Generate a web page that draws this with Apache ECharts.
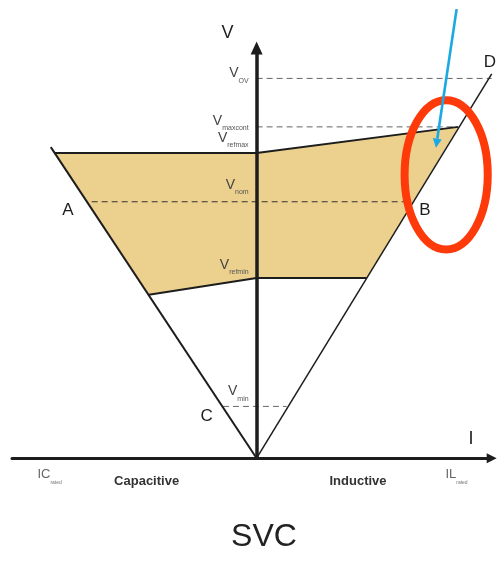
<!DOCTYPE html>
<html>
<head>
<meta charset="utf-8">
<title>SVC V-I characteristic</title>
<script src="https://cdn.jsdelivr.net/npm/echarts@6/dist/echarts.min.js"></script>
<style>
  html, body { margin: 0; padding: 0; background: #ffffff; }
  #chart { width: 497px; height: 564px; }
</style>
</head>
<body>
<div id="chart"></div>
<script>
// SVC steady-state V-I characteristic.
// I in per-unit of rated current (negative = capacitive, positive = inductive),
// V in per-unit of nominal voltage.

// Voltage reference levels marked on the V axis
const levelNames  = ['OV', 'maxcont', 'refmax', 'nom', 'refmin', 'min'];
const levelValues = [1.481, 1.292, 1.190, 1.000, 0.703, 0.202];

// Control range (shaded area), vertices from the top-left corner clockwise
const rangeI = [-0.868, 0.000, 0.868, 0.474, 0.000, -0.464];
const rangeV = [ 1.190, 1.190, 1.292, 0.703, 0.703,  0.637];

// Limit characteristics through the origin: full capacitor and full reactor
const capacitiveI = [-0.886, 0];
const capacitiveV = [ 1.213, 0];
const inductiveI  = [0, 1.012];
const inductiveV  = [0, 1.499];

// Dashed guides: which level each one marks, and its extent along I
const guideLevel  = [0, 1, 3, 5];
const guideStartI = [0.000, 0.000, -0.710, -0.145];
const guideEndI   = [1.012, 0.861,  0.667,  0.129];

// Named points on the characteristic
const pointNames = ['A', 'B', 'C', 'D'];
const pointI = [-0.710, 0.667, -0.145, 1.012];
const pointV = [ 1.000, 1.000,  0.202, 1.499];

// Axis extents
const axisI = [-1.053, 1.012];
const axisV = [0, 1.600];

// Highlight around the upper inductive corner, and the pointer into it
const highlightCenter = [0.816, 1.105];
const highlightRadius = [0.179, 0.291];
const pointerFrom = [0.861, 1.751];
const pointerTo   = [0.772, 1.211];

const FONT = '"Liberation Sans", Arial, Helvetica, sans-serif';
const INK = '#1d1d1d';

const pairs = (xs, ys) => xs.map((x, k) => [x, ys[k]]);

function solidLine(name, data, width) {
  return {
    name, type: 'line', data, symbol: 'none', silent: true, z: 3,
    lineStyle: { color: INK, width }
  };
}

const series = [
  {
    name: 'control range',
    type: 'custom',
    silent: true,
    z: 1,
    data: [0],
    renderItem: (params, api) => ({
      type: 'polygon',
      shape: { points: rangeI.map((x, k) => api.coord([x, rangeV[k]])) },
      style: { fill: '#ECD18E' }
    })
  },
  solidLine('upper limit', pairs(rangeI.slice(0, 3), rangeV.slice(0, 3)), 2),
  solidLine('lower limit', pairs(rangeI.slice(3), rangeV.slice(3)), 2),
  solidLine('capacitive limit', pairs(capacitiveI, capacitiveV), 2),
  solidLine('inductive limit', pairs(inductiveI, inductiveV), 1.5)
];

guideLevel.forEach((lv, k) => {
  series.push({
    name: 'V ' + levelNames[lv],
    type: 'line',
    symbol: 'none',
    silent: true,
    z: 2,
    data: [[guideStartI[k], levelValues[lv]], [guideEndI[k], levelValues[lv]]],
    lineStyle: { color: lv === 3 ? '#333' : '#666', width: lv === 3 ? 1.2 : 1, type: [6, 4] }
  });
});

const hiddenAxisParts = {
  axisTick: { show: false },
  axisLabel: { show: false },
  splitLine: { show: false }
};

const option = {
  animation: false,
  backgroundColor: '#ffffff',
  grid: { left: 12, right: 5.3, top: 47.9, bottom: 105.8 },
  xAxis: Object.assign({
    type: 'value', min: axisI[0], max: axisI[1], z: 5,
    axisLine: {
      onZero: true, symbol: ['none', 'triangle'], symbolSize: [10, 10],
      lineStyle: { color: INK, width: 3 }
    }
  }, hiddenAxisParts),
  yAxis: Object.assign({
    type: 'value', min: axisV[0], max: axisV[1], z: 6,
    axisLine: {
      onZero: true, symbol: ['none', 'triangle'], symbolSize: [12, 13],
      lineStyle: { color: INK, width: 3.5 }
    }
  }, hiddenAxisParts),
  series
};

const chart = echarts.init(document.getElementById('chart'), null, { renderer: 'canvas' });
chart.setOption(option);

const px = (i, v) => chart.convertToPixel({ gridIndex: 0 }, [i, v]);

function label(x, y, text, extra) {
  return {
    type: 'text', x, y, silent: true, z: 20,
    style: Object.assign({
      text, fill: INK, fontFamily: FONT, fontSize: 17,
      align: 'center', verticalAlign: 'middle'
    }, extra || {})
  };
}

const elements = [];

// V-axis level labels with subscripts
const levelLabelDy = [-12, -13, -22, -24, -20, -22];
levelNames.forEach((nm, k) => {
  const p = px(0, levelValues[k]);
  elements.push(label(p[0] - 8, p[1] + levelLabelDy[k], '{v|V}{s|' + nm + '}', {
    align: 'right', verticalAlign: 'top',
    rich: {
      v: { fontSize: 14, lineHeight: 14, verticalAlign: 'top', fill: '#444', fontFamily: FONT },
      s: { fontSize: 7, lineHeight: 18, verticalAlign: 'bottom', fill: '#555', fontFamily: FONT }
    }
  }));
});

// Point names
const pointDx = [-23.7, 13.3, -16.3, -1.7];
const pointDy = [9, 8.3, 9.7, -11.8];
pointNames.forEach((nm, k) => {
  const p = px(pointI[k], pointV[k]);
  elements.push(label(p[0] + pointDx[k], p[1] + pointDy[k], nm, { fontSize: 17 }));
});

// Axis names
const vTop = px(0, axisV[1]);
elements.push(label(vTop[0] - 29, vTop[1] - 15, 'V', { fontSize: 18 }));
const iEnd = px(axisI[1], 0);
elements.push(label(iEnd[0] - 20.7, iEnd[1] - 19.2, 'I', { fontSize: 18 }));

// Rated currents and operating regions under the I axis
const ratedRich = {
  m: { fontSize: 13, lineHeight: 14, verticalAlign: 'top', fill: '#666', fontFamily: FONT },
  s: { fontSize: 5, lineHeight: 17, verticalAlign: 'bottom', fill: '#777', fontFamily: FONT }
};
const icEnd = px(capacitiveI[0], 0);
elements.push(label(icEnd[0] - 1.2, icEnd[1] + 18.5, '{m|IC}{s|rated}', { rich: ratedRich }));
const ilEnd = px(inductiveI[1], 0);
elements.push(label(ilEnd[0] - 35.2, ilEnd[1] + 18.5, '{m|IL}{s|rated}', { rich: ratedRich }));

const o = px(0, 0);
elements.push(label(o[0] - 110, o[1] + 23.3, 'Capacitive', { fontSize: 13, fontWeight: 'bold', fill: '#333' }));
elements.push(label(o[0] + 101.4, o[1] + 22.8, 'Inductive', { fontSize: 13, fontWeight: 'bold', fill: '#333' }));

// Caption
elements.push(label(o[0] + 7.4, o[1] + 78.8, 'SVC', { fontSize: 32, fill: '#222' }));

// Red highlight ellipse
const hc = px(highlightCenter[0], highlightCenter[1]);
const he = px(highlightCenter[0] + highlightRadius[0], highlightCenter[1] + highlightRadius[1]);
elements.push({
  type: 'ellipse', silent: true, z: 30,
  shape: { cx: hc[0], cy: hc[1], rx: Math.abs(he[0] - hc[0]), ry: Math.abs(hc[1] - he[1]) },
  style: { fill: 'none', stroke: '#FF3A0A', lineWidth: 8 }
});

// Blue pointer arrow
const pa = px(pointerFrom[0], pointerFrom[1]);
const pb = px(pointerTo[0], pointerTo[1]);
const len = Math.hypot(pb[0] - pa[0], pb[1] - pa[1]);
const ux = (pb[0] - pa[0]) / len, uy = (pb[1] - pa[1]) / len;
const headLen = 9, headHalf = 4.5;
const base = [pb[0] - ux * headLen, pb[1] - uy * headLen];
elements.push({
  type: 'line', silent: true, z: 31,
  shape: { x1: pa[0], y1: pa[1], x2: base[0], y2: base[1] },
  style: { stroke: '#1BA9E1', lineWidth: 2.6 }
});
elements.push({
  type: 'polygon', silent: true, z: 31,
  shape: { points: [pb, [base[0] - uy * headHalf, base[1] + ux * headHalf], [base[0] + uy * headHalf, base[1] - ux * headHalf]] },
  style: { fill: '#1BA9E1' }
});

chart.setOption({ graphic: { elements } });
</script>
</body>
</html>
